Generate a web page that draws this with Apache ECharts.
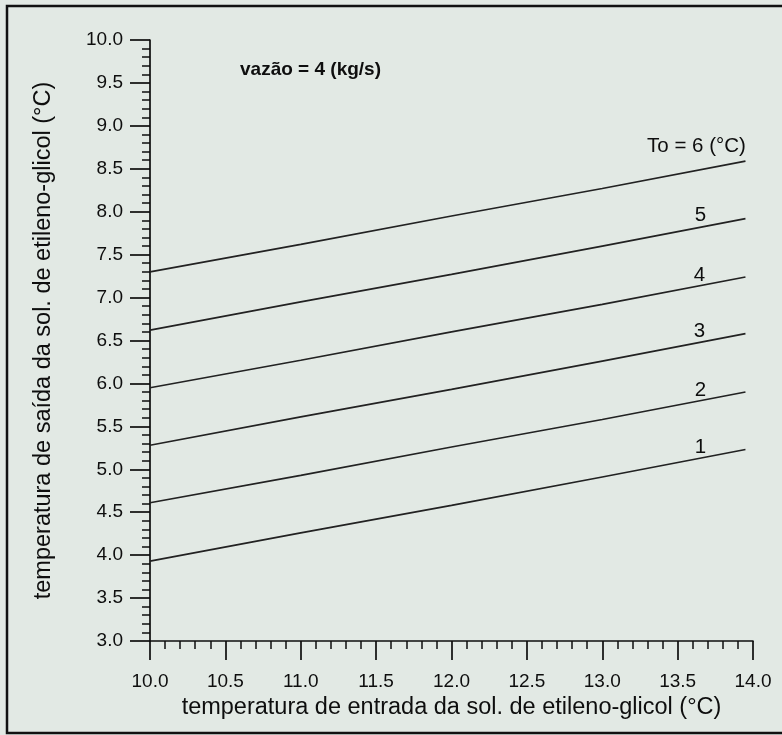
<!DOCTYPE html>
<html>
<head>
<meta charset="utf-8">
<script src="https://cdn.jsdelivr.net/npm/echarts@6/dist/echarts.min.js"></script>
<style>
  html, body { margin: 0; padding: 0; background: #e2e9e4; }
  #chart { width: 782px; height: 735px; }
</style>
</head>
<body>
<div id="chart"></div>
<script>
// Inlet temperature of the ethylene-glycol solution (°C)
const inletTemp = [10.0, 11.0, 12.0, 13.0, 13.95];

// Outlet temperature (°C) for each evaporating temperature To
const outletTo1 = [3.93, 4.26, 4.58, 4.91, 5.23];
const outletTo2 = [4.61, 4.93, 5.26, 5.58, 5.90];
const outletTo3 = [5.28, 5.61, 5.93, 6.26, 6.58];
const outletTo4 = [5.95, 6.27, 6.60, 6.92, 7.24];
const outletTo5 = [6.62, 6.95, 7.27, 7.60, 7.92];
const outletTo6 = [7.30, 7.62, 7.95, 8.27, 8.59];

const curveNames = ['1', '2', '3', '4', '5', 'To = 6 (°C)'];
const curveValues = [outletTo1, outletTo2, outletTo3, outletTo4, outletTo5, outletTo6];
const labelOffsets = [[-45, -2], [-45, -2], [-46, -2], [-46, -2], [-45, -3], [-49, -15]];

const xTicks = { min: 10, max: 14, step: 0.5 };
const yTicks = { min: 3, max: 10, step: 0.5 };

const ink = '#0e0e0e';
const font = 'Liberation Sans, Arial, sans-serif';

const series = curveValues.map((vals, k) => ({
  type: 'line',
  name: curveNames[k],
  symbol: 'circle',
  symbolSize: 0,
  showSymbol: true,
  silent: true,
  lineStyle: { color: '#222', width: 1.7 },
  itemStyle: { color: '#222' },
  data: inletTemp.map((x, i) => {
    const item = { value: [x, vals[i]] };
    if (i === inletTemp.length - 1) {
      item.label = {
        show: true,
        position: 'inside',
        offset: labelOffsets[k],
        formatter: curveNames[k],
        color: ink,
        fontFamily: font,
        fontSize: 20.5
      };
    }
    return item;
  })
}));

const chart = echarts.init(document.getElementById('chart'));
chart.setOption({
  backgroundColor: '#e2e9e4',
  animation: false,
  grid: { left: 150, top: 40, right: 29, bottom: 94, containLabel: false },
  xAxis: {
    type: 'value',
    min: xTicks.min, max: xTicks.max, interval: xTicks.step,
    name: 'temperatura de entrada da sol. de etileno-glicol (°C)',
    nameLocation: 'middle',
    nameGap: 50,
    nameTextStyle: { color: ink, fontFamily: font, fontSize: 23.5 },
    axisLine: { show: true, onZero: false, lineStyle: { color: ink, width: 1.7 } },
    axisTick: { show: true, inside: false, length: 19, lineStyle: { color: ink, width: 1.7 } },
    minorTick: { show: true, splitNumber: 5, length: 8, lineStyle: { color: ink, width: 1.5 } },
    axisLabel: { margin: 31, color: ink, fontFamily: font, fontSize: 19,
                 formatter: v => v.toFixed(1) },
    splitLine: { show: false }
  },
  yAxis: {
    type: 'value',
    min: yTicks.min, max: yTicks.max, interval: yTicks.step,
    name: 'temperatura de saída da sol. de etileno-glicol (°C)',
    nameLocation: 'middle',
    nameGap: 94,
    nameTextStyle: { color: ink, fontFamily: font, fontSize: 23.5 },
    axisLine: { show: true, onZero: false, lineStyle: { color: ink, width: 1.7 } },
    axisTick: { show: true, inside: false, length: 20, lineStyle: { color: ink, width: 1.7 } },
    minorTick: { show: true, splitNumber: 5, length: 8, lineStyle: { color: ink, width: 1.5 } },
    axisLabel: { margin: 27, color: ink, fontFamily: font, fontSize: 19,
                 formatter: v => v.toFixed(1) },
    splitLine: { show: false }
  },
  graphic: [
    {
      type: 'rect',
      silent: true,
      shape: { x: 7, y: 6, width: 800, height: 727 },
      style: { fill: 'none', stroke: '#111', lineWidth: 2.5 }
    },
    {
      type: 'text',
      left: 240, top: 60,
      style: { text: 'vazão = 4 (kg/s)', fill: ink, font: 'bold 19px ' + font }
    }
  ],
  series: series
});
</script>
</body>
</html>
